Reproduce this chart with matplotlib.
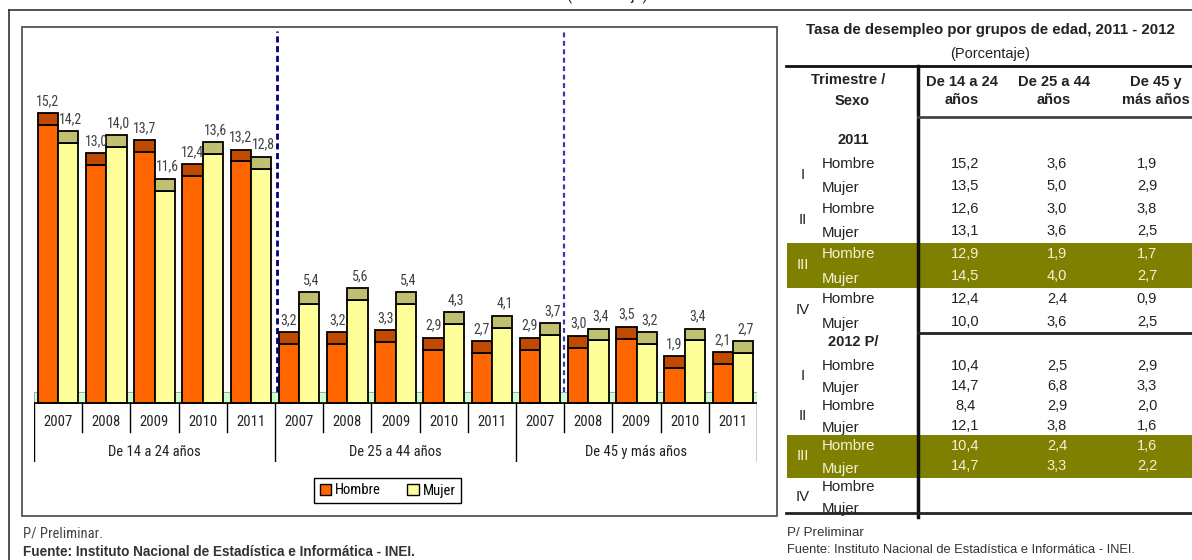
import matplotlib
matplotlib.use('Agg')
import matplotlib.pyplot as plt
import numpy as np
from matplotlib.patches import Patch, Rectangle

NARROW = ['Roboto Condensed', 'Liberation Sans', 'DejaVu Sans']
REG = ['Liberation Sans', 'DejaVu Sans']
plt.rcParams['font.family'] = NARROW

# chart data: unemployment rate by age group and year
years = ['2007', '2008', '2009', '2010', '2011']
groups = ['De 14 a 24 años', 'De 25 a 44 años', 'De 45 y más años']
hombre = [15.2, 13.0, 13.7, 12.4, 13.2,
          3.2, 3.2, 3.3, 2.9, 2.7,
          2.9, 3.0, 3.5, 1.9, 2.1]
mujer = [14.2, 14.0, 11.6, 13.6, 12.8,
         5.4, 5.6, 5.4, 4.3, 4.1,
         3.7, 3.4, 3.2, 3.4, 2.7]

# table data: Hombre / Mujer for trimestre I..IV
quarters = ['I', 'II', 'III', 'IV']
sexes = ['Hombre', 'Mujer']
col_heads = ['De 14 a 24\naños', 'De 25 a 44\naños', 'De 45 y\nmás años']
t2011_14_24 = [15.2, 13.5, 12.6, 13.1, 12.9, 14.5, 12.4, 10.0]
t2011_25_44 = [3.6, 5.0, 3.0, 3.6, 1.9, 4.0, 2.4, 3.6]
t2011_45 = [1.9, 2.9, 3.8, 2.5, 1.7, 2.7, 0.9, 2.5]
t2012_14_24 = [10.4, 14.7, 8.4, 12.1, 10.4, 14.7]
t2012_25_44 = [2.5, 6.8, 2.9, 3.8, 2.4, 3.3]
t2012_45 = [2.9, 3.3, 2.0, 1.6, 1.6, 2.2]

c_h, c_h_top = '#FF6600', '#C04A00'
c_m, c_m_top = '#FFFF99', '#C0C070'
olive = '#808000'
txt = '#222222'


def fmt(v):
    return f'{v:.1f}'.replace('.', ',')


W, H = 1192, 560
fig = plt.figure(figsize=(W / 100, H / 100), dpi=100)

# overlay in pixel coords (y down)
ov = fig.add_axes([0, 0, 1, 1], zorder=0)
ov.set_xlim(0, W)
ov.set_ylim(H, 0)
ov.axis('off')

# ---- bar chart ----
y0_px, ppu = 390.7, 18.27   # pixel of value 0, pixels per unit
top_px, bot_px = 31, 462
x_left, x_right = 34, 757
ax = fig.add_axes([x_left / W, 1 - bot_px / H, (x_right - x_left) / W, (bot_px - top_px) / H], zorder=2)
ax.patch.set_visible(False)
ax.set_xlim(0, 15)
ax.set_ylim((y0_px - bot_px) / ppu, (y0_px - top_px) / ppu)
ax.axis('off')

d = 0.65   # 3d depth of bar top
n = len(hombre)
x = np.arange(n) + 0.5
bw = 0.42
h = np.array(hombre)
m = np.array(mujer)

# floor
ax.add_patch(Rectangle((0, -d), n, d - 0.07, facecolor='#CCFFCC', edgecolor='#999999', lw=0.6, zorder=1))
ax.plot([0, n], [-d, -d], color='black', lw=1.2, zorder=4)

ax.bar(x - bw / 2, h, bw, bottom=-d, color=c_h, edgecolor='black', lw=1.3, zorder=3)
ax.bar(x - bw / 2, d, bw, bottom=h - d, color=c_h_top, edgecolor='black', lw=1.3, zorder=3)
ax.bar(x + bw / 2, m, bw, bottom=-d, color=c_m, edgecolor='black', lw=1.3, zorder=3)
ax.bar(x + bw / 2, d, bw, bottom=m - d, color=c_m_top, edgecolor='black', lw=1.3, zorder=3)

for xi, v in zip(x - bw / 2, h):
    ax.text(xi, v + 0.28, fmt(v), ha='center', va='bottom', fontsize=10, color='#404040')
for xi, v in zip(x + bw / 2, m):
    ax.text(xi + 0.05, v + 0.28, fmt(v), ha='center', va='bottom', fontsize=10, color='#404040')

# dashed separators
ax.plot([5.04, 5.04], [-0.07, ax.get_ylim()[1]], color='#000080', lw=2, ls=(0, (2.2, 1.3)), zorder=5)
ax.plot([11.0, 11.0], [-0.07, ax.get_ylim()[1]], color='#3838B0', lw=1.6, ls=(0, (2.2, 1.6)), zorder=5)

# category axis
y_year = (y0_px - 422) / ppu
y_grp = (y0_px - 452) / ppu
y_short = (y0_px - 432) / ppu
y_long = ax.get_ylim()[0]
for i in range(n + 1):
    yb = y_long if i % 5 == 0 else y_short
    ax.plot([i, i], [-d, yb], color='black', lw=1, zorder=4)
for i in range(n):
    ax.text(i + 0.5, y_year, years[i % 5], ha='center', va='center', fontsize=10.5, color=txt)
for g, name in enumerate(groups):
    ax.text(g * 5 + 2.5, y_grp, name, ha='center', va='center', fontsize=10.5, color=txt)

fig.legend(handles=[Patch(facecolor=c_h, edgecolor='black', label='Hombre'),
                    Patch(facecolor=c_m, edgecolor='black', label='Mujer')],
           loc='center', bbox_to_anchor=(387.5 / W, 1 - 490.5 / H), ncol=2,
           frameon=True, fancybox=False, edgecolor='black', framealpha=1,
           handlelength=0.8, handleheight=0.8, handletextpad=0.25, columnspacing=1.8,
           borderpad=0.4, fontsize=10.5)

# borders
ov.add_patch(Rectangle((22, 27), 755, 489, fill=False, edgecolor='#555555', lw=1.3))
ov.plot([9, W], [10, 10], color='#333333', lw=1.2, clip_on=False)
ov.plot([9, 9], [10, H], color='#333333', lw=1.2, clip_on=False)
# title of the source sheet, cut off by the top edge
ov.text(607, 0, '(Porcentaje)', ha='center', va='baseline', fontsize=12, color=txt, clip_on=False)

ov.text(23, 533, 'P/ Preliminar.', ha='left', va='center', fontsize=10.5, color='#444444')
ov.text(23, 552, 'Fuente: Instituto Nacional de Estadística e Informática - INEI.',
        ha='left', va='center', fontsize=9.8, fontweight='bold', color='#333333', family=REG)

# ---- table ----
tf = dict(family=REG)
ov.text(990, 30, 'Tasa de desempleo por grupos de edad, 2011 - 2012', ha='center', va='center',
        fontsize=10.8, fontweight='bold', color=txt, **tf)
ov.text(990, 54, '(Porcentaje)', ha='center', va='center', fontsize=10.5, color=txt, **tf)

ov.plot([786, W], [66, 66], color='#111111', lw=2, clip_on=False)
ov.plot([918, 918], [66, 517], color='#111111', lw=2.5)
ov.plot([918, W], [117, 117], color='#444444', lw=2, clip_on=False)
ov.plot([918, W], [333, 333], color='#222222', lw=2, clip_on=False)
ov.plot([786, W], [513, 513], color='#222222', lw=2, clip_on=False)

ov.text(848, 80, 'Trimestre /', ha='center', va='center', fontsize=10.5, fontweight='bold', color=txt, **tf)
ov.text(852, 101, 'Sexo', ha='center', va='center', fontsize=10.5, fontweight='bold', color=txt, **tf)
col_x = [965, 1057, 1147]
head_x = [962, 1054, 1156]
for cx, head in zip(head_x, col_heads):
    ov.text(cx, 91, head, ha='center', va='center', fontsize=10.5, fontweight='bold', color=txt,
            linespacing=1.45, **tf)

blocks = [('2011', 140, 163.5, 22.6, [t2011_14_24, t2011_25_44, t2011_45]),
          ('2012 P/', 342, 365.5, 20.2, [t2012_14_24, t2012_25_44, t2012_45])]
light = '#F2F2DC'
for label, ylab, ystart, step, cols in blocks:
    ov.text(853, ylab, label, ha='center', va='center', fontsize=10.5, fontweight='bold', color=txt, **tf)
    rows_y = [ystart + k * step for k in range(8)]
    hy = rows_y[4]
    ov.add_patch(Rectangle((787, hy - 11), W - 787, rows_y[5] - hy + 22, color=olive, lw=0))
    for q, qname in enumerate(quarters):
        yh, ym = rows_y[2 * q], rows_y[2 * q + 1]
        c = light if q == 2 else txt
        ov.text(803, (yh + ym) / 2, qname, ha='center', va='center', fontsize=10.8, color=c, **tf)
        ov.text(822, yh, sexes[0], ha='left', va='center', fontsize=10.8, color=c, **tf)
        ov.text(822, ym + 2, sexes[1], ha='left', va='center', fontsize=10.8, color=c, **tf)
        for cx, vals in zip(col_x, cols):
            if 2 * q + 1 < len(vals):
                ov.text(cx, yh, fmt(vals[2 * q]), ha='center', va='center', fontsize=10.5, color=c, **tf)
                ov.text(cx, ym, fmt(vals[2 * q + 1]), ha='center', va='center', fontsize=10.5, color=c, **tf)

ov.text(787, 533, 'P/ Preliminar', ha='left', va='center', fontsize=9.6, color='#333333', **tf)
ov.text(787, 550, 'Fuente: Instituto Nacional de Estadística e Informática - INEI.',
        ha='left', va='center', fontsize=9.3, color='#333333', **tf)

fig.savefig('out.png', dpi=100)
